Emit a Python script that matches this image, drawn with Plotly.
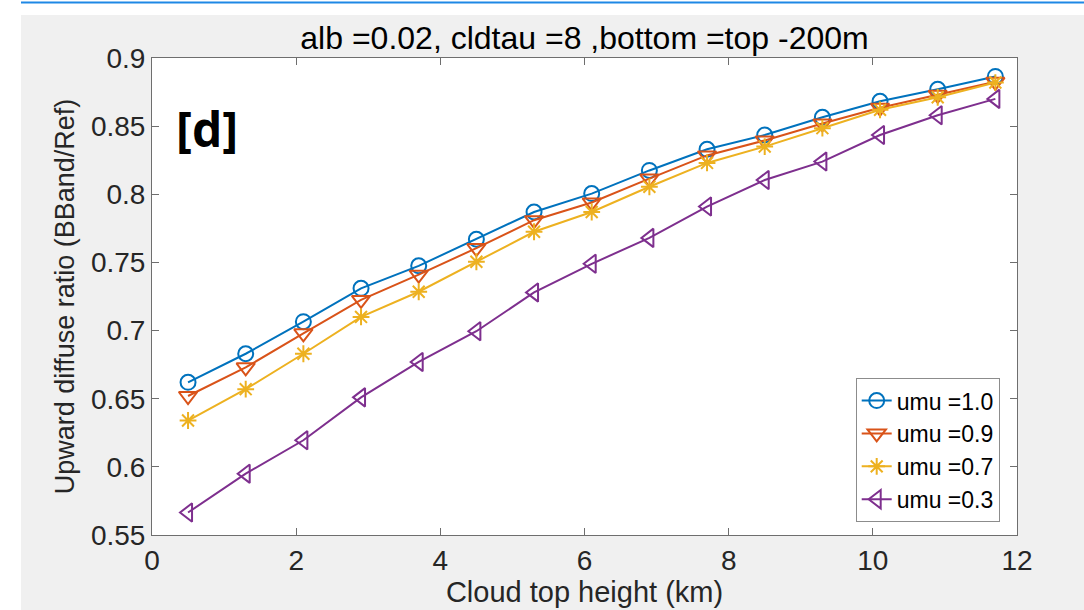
import plotly.graph_objects as go

# Cloud top heights (km)
cloud_top_km = [0.5, 1.3, 2.1, 2.9, 3.7, 4.5, 5.3, 6.1, 6.9, 7.7, 8.5, 9.3, 10.1, 10.9, 11.7]

# Upward diffuse ratio (BBand/Ref) for each cosine of solar zenith angle
ratio_umu_10 = [0.662, 0.683, 0.7065, 0.731, 0.7475, 0.767, 0.787, 0.8005, 0.8175, 0.833,
                0.8435, 0.8565, 0.8682, 0.877, 0.8865]
ratio_umu_09 = [0.652, 0.673, 0.698, 0.7225, 0.741, 0.7605, 0.781, 0.794, 0.8115, 0.8285,
                0.8395, 0.852, 0.8635, 0.873, 0.8825]
ratio_umu_07 = [0.634, 0.657, 0.683, 0.710, 0.7285, 0.7505, 0.7725, 0.787, 0.8055, 0.823,
                0.835, 0.8485, 0.862, 0.8712, 0.882]
ratio_umu_03 = [0.5665, 0.595, 0.6195, 0.651, 0.677, 0.6995, 0.728, 0.749, 0.768, 0.791,
                0.8105, 0.824, 0.8435, 0.858, 0.870]

series_names = ["umu =1.0", "umu =0.9", "umu =0.7", "umu =0.3"]
series_values = [ratio_umu_10, ratio_umu_09, ratio_umu_07, ratio_umu_03]
series_colors = ["#0072BD", "#D95319", "#EDB120", "#7E2F8E"]
series_symbols = ["circle-open", "triangle-down-open", "asterisk-open", "triangle-left-open"]
series_sizes = [15, 16, 14, 16]

x_ticks = [0, 2, 4, 6, 8, 10, 12]
y_ticks = [0.55, 0.6, 0.65, 0.7, 0.75, 0.8, 0.85, 0.9]

FONT = "Liberation Sans, Arial, sans-serif"
AX = "#262626"

fig = go.Figure()
for name, vals, col, sym, sz in zip(series_names, series_values, series_colors,
                                     series_symbols, series_sizes):
    fig.add_trace(go.Scatter(
        x=cloud_top_km, y=vals, name=name, mode="lines+markers",
        line=dict(color=col, width=2),
        marker=dict(symbol=sym, size=sz, color=col, line=dict(color=col, width=2)),
    ))

axis_common = dict(
    showgrid=False, zeroline=False, showline=True, linecolor="#6e6e6e", linewidth=1,
    mirror="ticks", ticks="inside", ticklen=7, tickcolor="#6e6e6e",
    tickfont=dict(family=FONT, size=28, color=AX), automargin=False,
)

fig.update_layout(
    template="none",
    width=1084, height=610,
    margin=dict(l=152, r=67, t=58, b=75),
    paper_bgcolor="#f0f0f0", plot_bgcolor="white",
    font=dict(family=FONT, color=AX),
    title=dict(text="alb =0.02, cldtau =8 ,bottom =top -200m",
               font=dict(family=FONT, size=32, color="#000000"),
               x=0.5, xanchor="center", xref="paper", y=1.0 - 38 / 610, yanchor="middle"),
    xaxis=dict(range=[0, 12], tickvals=x_ticks, ticktext=[str(v) for v in x_ticks],
               title=dict(text="Cloud top height (km)", font=dict(family=FONT, size=29, color=AX),
                          standoff=6),
               **axis_common),
    yaxis=dict(range=[0.55, 0.9], tickvals=y_ticks,
               ticktext=[f"{v:g}" for v in y_ticks],
               title=dict(text="Upward diffuse ratio (BBand/Ref)",
                          font=dict(family=FONT, size=27, color=AX), standoff=8),
               **axis_common),
    legend=dict(x=0.980, y=0.027, xanchor="right", yanchor="bottom",
                bgcolor="white", bordercolor="#8c8c8c", borderwidth=1,
                font=dict(family=FONT, size=23, color="#000000"),
                itemwidth=30, tracegroupgap=0),
    showlegend=True,
)

# Panel tag
fig.add_annotation(text="<b>[d]</b>", x=0.3, y=0.848, xref="x", yref="y",
                   xanchor="left", yanchor="middle", showarrow=False,
                   font=dict(family="Open Sans, Noto Sans, sans-serif", size=48, color="black"))

# Surrounding page strips: white margin on the left and top with a blue rule
W, H = 1084, 610
pl, pr, pt, pb = 152, 1017, 58, 535

def px_x(p):
    return (p - pl) / (pr - pl)

def px_y(p):
    return (pb - p) / (pb - pt)

fig.add_shape(type="rect", xref="paper", yref="paper", layer="above",
              x0=px_x(-5), x1=px_x(21), y0=px_y(615), y1=px_y(-5),
              fillcolor="white", line=dict(width=0))
fig.add_shape(type="rect", xref="paper", yref="paper", layer="above",
              x0=px_x(-5), x1=px_x(W + 5), y0=px_y(15), y1=px_y(-5),
              fillcolor="white", line=dict(width=0))
fig.add_shape(type="line", xref="paper", yref="paper", layer="above",
              x0=px_x(21), x1=px_x(W + 5), y0=px_y(2.5), y1=px_y(2.5),
              line=dict(color="#1e88e5", width=2))

fig.write_html("out.html")
